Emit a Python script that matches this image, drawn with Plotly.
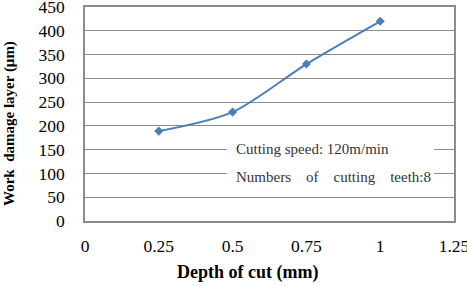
import plotly.graph_objects as go

depth = [0.25, 0.5, 0.75, 1.0]
damage = [189, 229, 330, 420]
x_ticks = [0, 0.25, 0.5, 0.75, 1, 1.25]
x_labels = ["0", "0.25", "0.5", "0.75", "1", "1.25"]
y_ticks = list(range(0, 451, 50))

L, R, T, B = 85, 454, 7, 221
PW, PH = R - L, B - T

fig = go.Figure()
fig.add_trace(go.Scatter(
    x=depth, y=damage, mode="lines+markers",
    line=dict(color="#4a7ebb", width=2, shape="spline", smoothing=0.8),
    marker=dict(symbol="diamond", size=7, color="#4a7ebb"),
    showlegend=False,
))

font_axis = dict(family="Liberation Serif", size=17.5, color="#000")
fig.update_layout(
    width=467, height=286,
    margin=dict(l=L, r=467 - R, t=T, b=286 - B, autoexpand=False),
    paper_bgcolor="white", plot_bgcolor="white",
    font=font_axis,
    xaxis=dict(range=[0, 1.25], tickvals=x_ticks, ticktext=x_labels,
               showgrid=False, zeroline=False, automargin=False,
               showline=True, linecolor="#8c8c8c", linewidth=1.5, mirror=True,
               ticks="", ticklabelstandoff=8, tickfont=font_axis,
               ticklabeloverflow="allow"),
    yaxis=dict(range=[0, 450], tickvals=y_ticks,
               showgrid=True, gridcolor="#8c8c8c", gridwidth=1, zeroline=False, automargin=False,
               showline=True, linecolor="#8c8c8c", linewidth=1.5, mirror=True,
               ticks="", ticklabelstandoff=15, tickfont=font_axis,
               ticklabeloverflow="allow"),
)

# axis titles
fig.add_annotation(xref="paper", yref="paper", x=(247.5 - L) / PW, y=0, yshift=-(272 - B),
                   text="<b>Depth of cut (mm)</b>", showarrow=False, xanchor="center", yanchor="middle",
                   font=dict(family="Liberation Serif", size=18, color="#000"))
fig.add_annotation(xref="paper", yref="paper", x=0, xshift=9 - L, y=(B - 124) / PH,
                   text="<b>Work  damage layer (μm)</b>", showarrow=False, textangle=-90,
                   xanchor="center", yanchor="middle",
                   font=dict(family="Liberation Serif", size=15, color="#000"))

# text box
fig.add_shape(type="rect", xref="paper", yref="paper",
              x0=(227 - L) / PW, x1=(434 - L) / PW, y0=(B - 190) / PH, y1=(B - 136) / PH,
              fillcolor="white", line=dict(width=0), layer="above")
fig.add_annotation(xref="paper", yref="paper", x=(234 - L) / PW, y=(B - 149) / PH,
                   text="Cutting speed: 120m/min", showarrow=False, xanchor="left", yanchor="middle",
                   font=dict(family="Liberation Serif", size=15, color="#333"))
fig.add_annotation(xref="paper", yref="paper", x=(234 - L) / PW, y=(B - 177) / PH,
                   text="Numbers    of    cutting    teeth:8", showarrow=False, xanchor="left", yanchor="middle",
                   font=dict(family="Liberation Serif", size=15, color="#333"))

fig.write_html("out.html")
